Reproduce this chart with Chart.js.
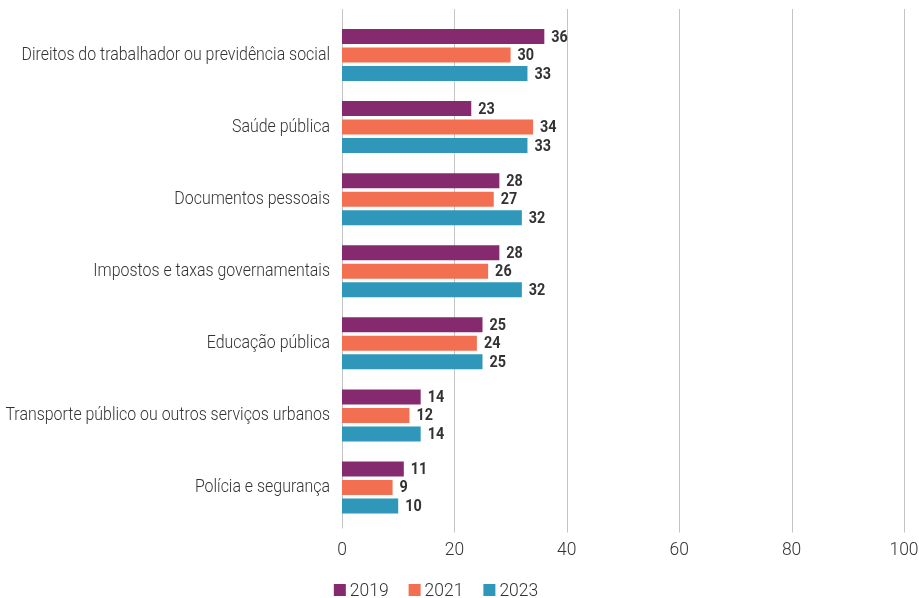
<!DOCTYPE html>
<html lang="pt">
<head>
<meta charset="utf-8">
<title>Serviços públicos</title>
<script src="https://cdn.jsdelivr.net/npm/chart.js@4.4.1/dist/chart.umd.min.js"></script>
<style>
  html, body { margin: 0; padding: 0; background: #fff; }
  #wrap { width: 919px; height: 598px; position: relative; }
</style>
</head>
<body>
<div id="wrap"><canvas id="chart"></canvas></div>
<script>
// categories and series
const categories = [
  "Direitos do trabalhador ou previdência social",
  "Saúde pública",
  "Documentos pessoais",
  "Impostos e taxas governamentais",
  "Educação pública",
  "Transporte público ou outros serviços urbanos",
  "Polícia e segurança"
];
const years = ["2019", "2021", "2023"];
const values2019 = [36, 23, 28, 28, 25, 14, 11];
const values2021 = [30, 34, 27, 26, 24, 12, 9];
const values2023 = [33, 33, 32, 32, 25, 14, 10];
const xTicks = [0, 20, 40, 60, 80, 100];

const colors = ["#852a6f", "#f26f51", "#2e97ba"];
const FONT = "Roboto, 'Noto Sans', sans-serif";
const GRID = "#c4c4c4";
const TEXT = "#333333";

// text squeezed horizontally to get a narrow face
function drawText(ctx, str, x, y, align, font, squeeze){
  ctx.save();
  ctx.font = font;
  ctx.textBaseline = "middle";
  ctx.textAlign = align;
  ctx.translate(x, y);
  ctx.scale(squeeze, 1);
  ctx.fillText(str, 0, 0);
  ctx.restore();
}

// vertical grid lines, a bit taller than the plot area
const gridLines = {
  id: "gridLines",
  beforeDatasetsDraw(chart){
    const { ctx, chartArea, scales } = chart;
    ctx.save();
    ctx.strokeStyle = GRID;
    ctx.lineWidth = 1;
    xTicks.forEach(v => {
      const x = Math.round(scales.x.getPixelForValue(v)) + 0.5;
      ctx.beginPath();
      ctx.moveTo(x, chartArea.top - 10);
      ctx.lineTo(x, chartArea.bottom + (v === 0 ? 5 : 9));
      ctx.stroke();
    });
    ctx.restore();
  }
};

// axis labels for both scales
const axisText = {
  id: "axisText",
  afterDraw(chart){
    const { ctx, chartArea, scales } = chart;
    ctx.save();
    ctx.fillStyle = TEXT;
    categories.forEach((c, i) => {
      drawText(ctx, c, 330, scales.y.getPixelForValue(i), "right", "300 18px " + FONT, 0.885);
    });
    xTicks.forEach(v => {
      drawText(ctx, String(v), scales.x.getPixelForValue(v), chartArea.bottom + 27, "center", "300 19px " + FONT, 0.92);
    });
    ctx.restore();
  }
};

// value labels at the end of each bar
const barLabels = {
  id: "barLabels",
  afterDatasetsDraw(chart){
    const { ctx } = chart;
    ctx.save();
    ctx.fillStyle = "#333";
    chart.data.datasets.forEach((ds, i) => {
      chart.getDatasetMeta(i).data.forEach((bar, j) => {
        drawText(ctx, String(ds.data[j]), bar.x + 7, bar.y + 1, "left", "bold 16px " + FONT, 0.9);
      });
    });
    ctx.restore();
  }
};

// legend row under the axis
const bottomLegend = {
  id: "bottomLegend",
  afterDraw(chart){
    const { ctx } = chart;
    ctx.save();
    ctx.font = "300 19px " + FONT;
    ctx.textBaseline = "middle";
    const box = 12, gapText = 4, gapItem = 20, squeeze = 0.92;
    const widths = years.map(y => box + gapText + ctx.measureText(y).width * squeeze);
    const total = widths.reduce((a, b) => a + b, 0) + gapItem * (years.length - 1);
    let x = 436 - total / 2;
    const y = 590;
    years.forEach((yr, i) => {
      ctx.fillStyle = colors[i];
      ctx.fillRect(x, y - box / 2, box, box);
      ctx.fillStyle = TEXT;
      drawText(ctx, yr, x + box + gapText, y + 1, "left", "300 19px " + FONT, squeeze);
      x += widths[i] + gapItem;
    });
    ctx.restore();
  }
};

const series = [values2019, values2021, values2023];

new Chart(document.getElementById("chart"), {
  type: "bar",
  data: {
    labels: categories,
    datasets: years.map((yr, i) => ({
      label: yr,
      data: series[i],
      backgroundColor: colors[i],
      categoryPercentage: 0.77,
      barPercentage: 0.81
    }))
  },
  options: {
    indexAxis: "y",
    responsive: true,
    maintainAspectRatio: false,
    animation: false,
    layout: { padding: { top: 19, right: 15, bottom: 0, left: 0 } },
    plugins: {
      legend: { display: false },
      tooltip: { enabled: false }
    },
    scales: {
      x: {
        min: 0, max: 100,
        afterBuildTicks: s => { s.ticks = xTicks.map(v => ({ value: v })); },
        afterFit: s => { s.height = 74.5; },
        grid: { display: false },
        border: { display: false },
        ticks: { display: false }
      },
      y: {
        afterFit: s => { s.width = 342; },
        grid: { display: false },
        border: { display: false },
        ticks: { display: false }
      }
    }
  },
  plugins: [gridLines, barLabels, axisText, bottomLegend]
});
</script>
</body>
</html>
